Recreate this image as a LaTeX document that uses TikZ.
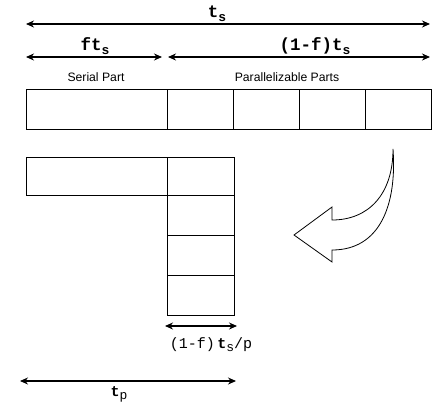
\documentclass[tikz,border=0pt]{standalone}
\usepackage{fontspec}
\setmainfont{Liberation Sans}
\newfontfamily\codefont{Liberation Mono}
\usetikzlibrary{positioning,arrows.meta}

\newcommand{\lowsub}[1]{\raisebox{-4pt}{\fontsize{13}{13}\selectfont #1}}

\begin{document}
\begin{tikzpicture}[
  x=1pt, y=-1pt,
  cell/.style={draw, line width=0.8pt, inner sep=0pt, outer sep=0pt, minimum height=40pt, minimum width=66pt},
  wide/.style={cell, minimum width=141pt},
  dim/.style={{Stealth[length=8pt,width=7pt]}-{Stealth[length=8pt,width=7pt]}, line width=1.1pt},
  caption/.style={font=\fontsize{12.2}{13}\selectfont, anchor=base},
  label/.style={font=\codefont\bfseries\fontsize{17.5}{17.5}\selectfont, anchor=base},
  node distance=0pt
]
\useasboundingbox (0,0) rectangle (443,415);

% sequential run
\node[wide, anchor=north west] (serial) at (26,89) {};
\node[cell, right=of serial] (par1) {};
\node[cell, right=of par1] (par2) {};
\node[cell, right=of par2] (par3) {};
\node[cell, right=of par3] (par4) {};
\node[caption] (serialtxt) at (96,81) {Serial Part};
\node[caption] (partxt) at (287,81) {Parallelizable Parts};

% parallel run
\node[wide, anchor=north west, minimum height=38pt] (serialp) at (26,157) {};
\node[cell, right=of serialp, minimum width=67pt, minimum height=38pt] (p1) {};
\node[cell, below=of p1, minimum width=67pt] (p2) {};
\node[cell, below=of p2, minimum width=67pt] (p3) {};
\node[cell, below=of p3, minimum width=67pt] (p4) {};

% dimension lines
\coordinate (tsl) at (26,24);
\coordinate (tsr) at (430,24);
\coordinate (fl) at (26,57);
\coordinate (fr) at (162,57);
\coordinate (rl) at (168,57);
\coordinate (rr) at (430,57);
\coordinate (pl) at (165,326);
\coordinate (pr) at (237,326);
\coordinate (tpl) at (20,381);
\coordinate (tpr) at (236,381);
\draw[dim] (tsl) -- (tsr);
\draw[dim] (fl) -- (fr);
\draw[dim] (rl) -- (rr);
\draw[dim] (pl) -- (pr);
\draw[dim] (tpl) -- (tpr);

\node[label] (ts) at (217,17) {t\lowsub{s}};
\node[label] (fts) at (95,50) {ft\lowsub{s}};
\node[label] (rest) at (315,50) {(1-f)t\lowsub{s}};
\node[anchor=base, font=\codefont\fontsize{15}{15}\selectfont] (slice) at (211,348) {(1-f)\,\textbf{t}\raisebox{-3.5pt}{\fontsize{13}{13}\selectfont s}/p};
\node[anchor=base, font=\codefont\fontsize{15}{15}\selectfont] (tp) at (119,396) {\textbf{t}\raisebox{-3.5pt}{\fontsize{13}{13}\selectfont p}};

% curved block arrow
\draw[line width=0.8pt, line join=miter] (393,149) .. controls (393,195) and (368,220) .. (332,220)
  -- (332,207) -- (294,235) -- (332,262) -- (332,250)
  .. controls (380,250) and (397,205) .. (393,149) -- cycle;
\end{tikzpicture}
\end{document}
